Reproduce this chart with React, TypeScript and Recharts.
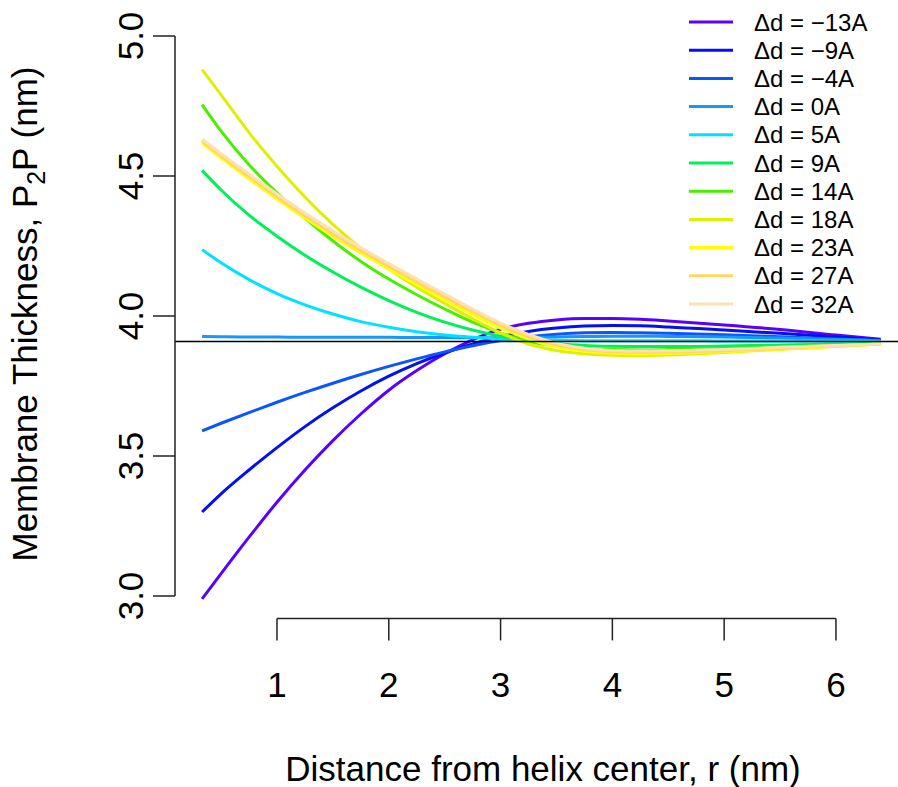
import React from "react";
import { LineChart, Line, XAxis, YAxis, ReferenceLine } from "recharts";

const rValues = [0.33, 0.5, 0.75, 1, 1.25, 1.5, 1.75, 2, 2.25, 2.5, 2.75, 3, 3.25, 3.5, 3.75, 4, 4.25, 4.5, 5, 5.5, 6, 6.4];

const dM13 = [2.99, 3.08, 3.21, 3.335, 3.45, 3.555, 3.65, 3.735, 3.805, 3.865, 3.915, 3.953, 3.974, 3.986, 3.991, 3.991, 3.988, 3.982, 3.968, 3.952, 3.932, 3.917];
const dM9 = [3.30, 3.365, 3.45, 3.53, 3.605, 3.672, 3.732, 3.785, 3.83, 3.868, 3.9, 3.926, 3.945, 3.957, 3.964, 3.966, 3.965, 3.961, 3.95, 3.938, 3.925, 3.914];
const dM4 = [3.59, 3.617, 3.655, 3.692, 3.727, 3.76, 3.791, 3.82, 3.847, 3.872, 3.894, 3.912, 3.926, 3.935, 3.94, 3.941, 3.94, 3.938, 3.933, 3.926, 3.918, 3.912];
const d0 = [3.927, 3.926, 3.925, 3.925, 3.924, 3.924, 3.924, 3.924, 3.923, 3.923, 3.922, 3.922, 3.923, 3.925, 3.927, 3.928, 3.928, 3.927, 3.925, 3.921, 3.916, 3.912];
const dP5 = [4.237, 4.19, 4.13, 4.08, 4.04, 4.007, 3.98, 3.96, 3.944, 3.932, 3.924, 3.918, 3.915, 3.913, 3.912, 3.912, 3.912, 3.912, 3.911, 3.911, 3.91, 3.909];
const dP9 = [4.52, 4.45, 4.36, 4.285, 4.217, 4.157, 4.103, 4.055, 4.013, 3.978, 3.95, 3.928, 3.912, 3.902, 3.895, 3.892, 3.891, 3.891, 3.893, 3.896, 3.9, 3.903];
const dP14 = [4.755, 4.66, 4.54, 4.44, 4.35, 4.268, 4.195, 4.132, 4.076, 4.025, 3.978, 3.94, 3.91, 3.893, 3.884, 3.88, 3.879, 3.88, 3.884, 3.89, 3.896, 3.9];
const dP18 = [4.88, 4.79, 4.655, 4.535, 4.425, 4.327, 4.242, 4.168, 4.103, 4.045, 3.99, 3.94, 3.9, 3.877, 3.865, 3.86, 3.859, 3.861, 3.87, 3.881, 3.892, 3.9];
const dP23 = [4.618, 4.565, 4.49, 4.418, 4.35, 4.285, 4.225, 4.168, 4.112, 4.058, 4.005, 3.957, 3.918, 3.89, 3.874, 3.867, 3.865, 3.866, 3.872, 3.882, 3.892, 3.9];
const dP27 = [4.625, 4.572, 4.498, 4.426, 4.358, 4.294, 4.234, 4.177, 4.122, 4.068, 4.015, 3.966, 3.926, 3.897, 3.88, 3.872, 3.87, 3.871, 3.876, 3.885, 3.894, 3.9];
const dP32 = [4.632, 4.58, 4.507, 4.436, 4.368, 4.304, 4.244, 4.187, 4.132, 4.078, 4.025, 3.975, 3.934, 3.903, 3.885, 3.877, 3.875, 3.876, 3.88, 3.888, 3.895, 3.9];

const seriesLabels = ["Δd = −13A", "Δd = −9A", "Δd = −4A", "Δd = 0A", "Δd = 5A", "Δd = 9A", "Δd = 14A", "Δd = 18A", "Δd = 23A", "Δd = 27A", "Δd = 32A"];
const seriesKeys = ["m13", "m9", "m4", "z0", "p5", "p9", "p14", "p18", "p23", "p27", "p32"];
const seriesValues = [dM13, dM9, dM4, d0, dP5, dP9, dP14, dP18, dP23, dP27, dP32];
const seriesColors = ["#5a00ff", "#0410ee", "#0a55ff", "#1398ff", "#00e2ff", "#00f05a", "#48f000", "#dcf000", "#ffff00", "#ffd760", "#ffdfb6"];

const xTicks = [1, 2, 3, 4, 5, 6];
const yTicks = [3.0, 3.5, 4.0, 4.5, 5.0];
const referenceThickness = 3.909;

const data = rValues.map((r, i) => {
  const row: Record<string, number> = { r };
  seriesKeys.forEach((k, j) => {
    row[k] = seriesValues[j][i];
  });
  return row;
});

const FONT = "'Liberation Sans', Arial, Helvetica, sans-serif";

const XTick = (props: any) => {
  const { x, y, payload } = props;
  return (
    <g>
      <line x1={x} y1={y} x2={x} y2={y + 22} stroke="#222" strokeWidth={1.5} />
      <text x={x} y={y + 79} textAnchor="middle" fontSize={35} fontFamily={FONT} fill="#000">
        {payload.value}
      </text>
    </g>
  );
};

const YTick = (props: any) => {
  const { x, y, payload } = props;
  const bx = x - 32;
  return (
    <g>
      <line x1={x} y1={y} x2={x - 22} y2={y} stroke="#222" strokeWidth={1.5} />
      <text
        x={bx}
        y={y}
        transform={`rotate(-90, ${bx}, ${y})`}
        textAnchor="middle"
        fontSize={35}
        fontFamily={FONT}
        fill="#000"
      >
        {Number(payload.value).toFixed(1)}
      </text>
    </g>
  );
};

export default function App() {
  return (
    <div style={{ position: "absolute", left: 0, top: 0, width: 898, height: 787, background: "#fff" }}>
      <LineChart width={898} height={787} data={data} margin={{ top: 13.6, right: 0, bottom: 0, left: 0 }}>
        <XAxis
          dataKey="r"
          type="number"
          domain={[0.0877, 6.555]}
          allowDataOverflow
          ticks={xTicks}
          interval={0}
          height={168.6}
          tickSize={0}
          tickMargin={0}
          axisLine={false}
          tickLine={false}
          tick={<XTick />}
        />
        <YAxis
          type="number"
          domain={[2.92, 5.08]}
          allowDataOverflow
          ticks={yTicks}
          interval={0}
          width={175}
          tickSize={0}
          tickMargin={0}
          axisLine={false}
          tickLine={false}
          tick={<YTick />}
        />
        {seriesKeys.map((k, j) => (
          <Line
            key={k}
            dataKey={k}
            type="monotone"
            stroke={seriesColors[j]}
            strokeWidth={3}
            dot={false}
            activeDot={false}
            isAnimationActive={false}
          />
        ))}
        <ReferenceLine y={referenceThickness} stroke="#000" strokeWidth={1.5} />
        <ReferenceLine
          segment={[{ x: 0.0877, y: 3 }, { x: 0.0877, y: 5 }]}
          stroke="#222"
          strokeWidth={1.5}
          ifOverflow="visible"
        />
        <ReferenceLine
          segment={[{ x: 1, y: 2.92 }, { x: 6, y: 2.92 }]}
          stroke="#222"
          strokeWidth={1.5}
          ifOverflow="visible"
        />
        <g>
          {seriesLabels.map((lab, i) => {
            const cy = 22 + i * 28.2;
            return (
              <g key={lab}>
                <line x1={689} y1={cy} x2={733} y2={cy} stroke={seriesColors[i]} strokeWidth={3} />
                <text x={754} y={cy + 8.5} fontSize={24} fontFamily={FONT} fill="#000">
                  {lab}
                </text>
              </g>
            );
          })}
        </g>
        <text x={543} y={781} textAnchor="middle" fontSize={35} fontFamily={FONT} fill="#000">
          Distance from helix center, r (nm)
        </text>
        <text
          x={37}
          y={314}
          transform="rotate(-90, 37, 314)"
          textAnchor="middle"
          fontSize={35}
          fontFamily={FONT}
          fill="#000"
        >
          Membrane Thickness, P
          <tspan fontSize={25} dy={8}>2</tspan>
          <tspan dy={-8}>P (nm)</tspan>
        </text>
      </LineChart>
    </div>
  );
}
